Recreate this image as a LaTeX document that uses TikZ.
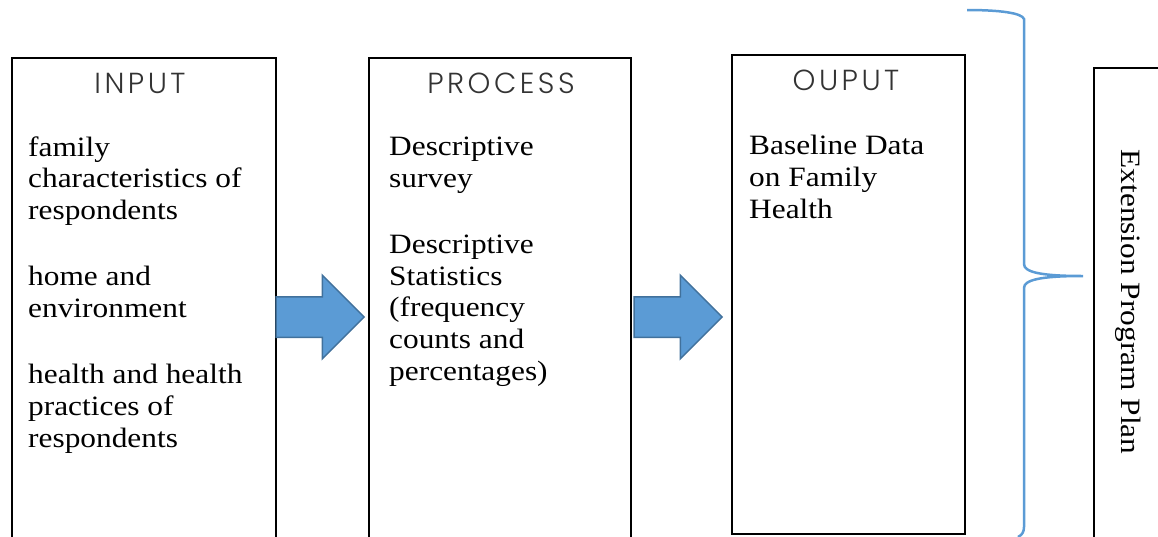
\documentclass[tikz,border=0pt]{standalone}
\usepackage{fontspec}
\setmainfont{Liberation Serif}[FakeStretch=1.12]
\newfontfamily\headfont{Poppins Light}[LetterSpace=12]
\usetikzlibrary{shapes.arrows}
\definecolor{arrowfill}{HTML}{5B9BD5}
\definecolor{arrowline}{HTML}{41719C}
\definecolor{bracecol}{HTML}{5B9BD5}
\begin{document}
\begin{tikzpicture}[x=1pt,y=-1pt,
  box/.style={draw=black,line width=2pt,anchor=north west,inner sep=0pt},
  head/.style={font=\headfont\fontsize{29}{29}\selectfont,anchor=base,inner sep=0pt,text=black!80},
  body/.style={font=\fontsize{28}{31.6}\selectfont,align=left,anchor=base west,inner sep=0pt},
  blockarrow/.style={single arrow,fill=arrowfill,draw=arrowline,line width=1.5pt,
    inner xsep=0pt,inner ysep=19.5pt,text height=0pt,text depth=0pt,
    single arrow head extend=21.5pt,single arrow tip angle=90,minimum height=88pt},
  bracestyle/.style={draw=bracecol,line width=2.5pt}
]
\useasboundingbox (0,0) rectangle (1158,536);
\clip (0,0) rectangle (1158,536);
% boxes
\node[box,minimum width=264pt,minimum height=520pt] (input) at (11,57) {};
\node[box,minimum width=262pt,minimum height=520pt] (process) at (368,57) {};
\node[box,minimum width=233pt,minimum height=479pt] (output) at (731,54) {};
\node[box,minimum width=100pt,minimum height=520pt] (plan) at (1093,67) {};
% headings
\node[head] (inhead) at (140,93) {INPUT};
\node[head] (prochead) at (501,93) {PROCESS};
\node[head] (outhead) at (846,90) {OUPUT};
% body texts (anchored at the baseline of the last line)
\node[body] (intxt) at (28,447) {family\\characteristics of\\respondents\\[34.5pt]home and\\environment\\[35pt]health and health\\practices of\\respondents};
\node[body] (proctxt) at (389,380) {Descriptive\\survey\\[34.5pt]Descriptive\\Statistics\\(frequency\\counts and\\percentages)};
\node[body] (outtxt) at (749,218) {Baseline Data\\on Family\\Health};
% arrows
\node[blockarrow] (arr1) at (310,317) {};
\node[blockarrow] (arr2) at (668,317) {};
% brace
\draw[bracestyle] (967,10) .. controls (1000,10) and (1022,13) .. (1024,19)
  -- (1024,264) .. controls (1024,272) and (1040,276) .. (1083,276)
  .. controls (1040,276) and (1024,280) .. (1024,288)
  -- (1024,527) .. controls (1024,532) and (1022,535) .. (1018,537);
% rotated label
\node[font=\fontsize{28}{31.6}\selectfont,rotate=-90,anchor=base,inner sep=0pt] (plantxt) at (1121,302) {Extension Program Plan};
\end{tikzpicture}
\end{document}
